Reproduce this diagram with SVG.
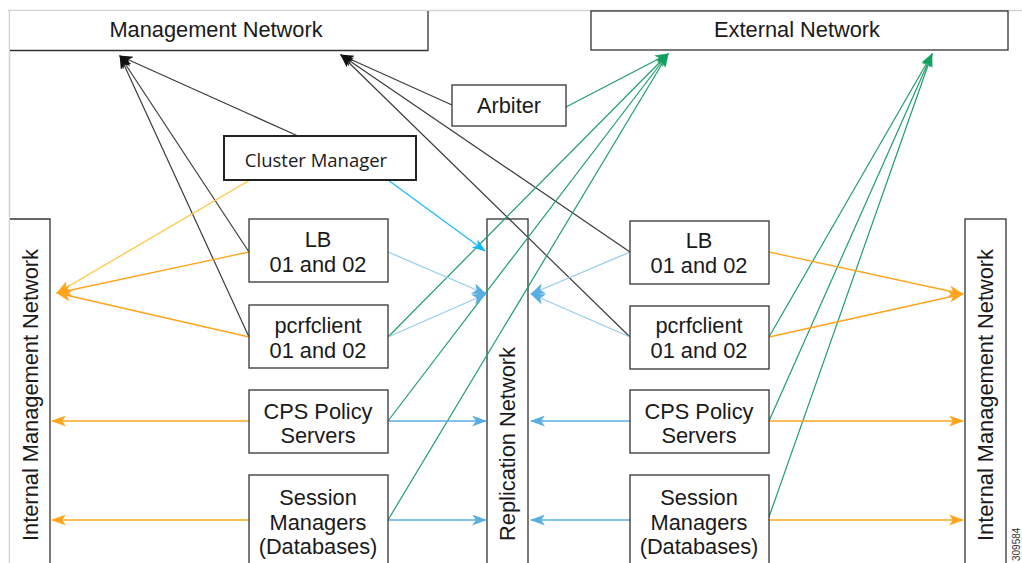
<svg xmlns="http://www.w3.org/2000/svg" width="1022" height="563" viewBox="0 0 1022 563">
<style>
  .box{fill:#fff;stroke:#333;stroke-width:1.3}
  .t{font-family:"Liberation Sans",Arial,sans-serif;font-size:21.8px;fill:#1a1a1a;text-anchor:middle}
  .cm{font-family:"Open Sans","Noto Sans",sans-serif;font-size:18.5px;fill:#1a1a1a;text-anchor:middle}
  .k{stroke:#3c3c3c;stroke-width:1.2;fill:none}
  .g{stroke:#1f9e6c;stroke-width:1.2;fill:none}
  .o{stroke:#ffa41c;stroke-width:1.3;fill:none}
  .y{stroke:#ffc840;stroke-width:1.3;fill:none}
  .lb{stroke:#98cdee;stroke-width:1.3;fill:none}
  .b{stroke:#5aafe2;stroke-width:1.3;fill:none}
  .c{stroke:#20bdf5;stroke-width:1.4;fill:none}
</style>
<defs>
  <marker id="ak" markerWidth="14" markerHeight="10" refX="13" refY="5" orient="auto" markerUnits="userSpaceOnUse"><path d="M0,0 L14,5 L0,10 L4,5 z" fill="#111"/></marker>
  <marker id="ag" markerWidth="14" markerHeight="10" refX="13" refY="5" orient="auto" markerUnits="userSpaceOnUse"><path d="M0,0 L14,5 L0,10 L4,5 z" fill="#12a060"/></marker>
  <marker id="ao" markerWidth="15" markerHeight="11" refX="14" refY="5.5" orient="auto" markerUnits="userSpaceOnUse"><path d="M0,0 L15,5.5 L0,11 L4,5.5 z" fill="#ffa41c"/></marker>
  <marker id="ab" markerWidth="15" markerHeight="11" refX="14" refY="5.5" orient="auto" markerUnits="userSpaceOnUse"><path d="M0,0 L15,5.5 L0,11 L4,5.5 z" fill="#5aafe2"/></marker>
  <marker id="ac" markerWidth="14" markerHeight="10" refX="13" refY="5" orient="auto" markerUnits="userSpaceOnUse"><path d="M0,0 L14,5 L0,10 L4,5 z" fill="#14b8f5"/></marker>
</defs>
<rect width="1022" height="563" fill="#fff"/>
<path d="M8,10.5 H1022 M9.5,10 V563" stroke="#d2d2d2" stroke-width="1.5" fill="none"/>

<g id="internal-mgmt-left">
  <rect x="10" y="219" width="40" height="350" fill="#fff"/>
  <path d="M10,219 H50 V563" stroke="#333" stroke-width="1.3" fill="none"/>
  <text class="t" transform="translate(38,395) rotate(-90)">Internal Management Network</text>
</g>
<g id="replication-network">
  <rect class="box" x="487" y="219" width="41" height="350"/>
  <text class="t" transform="translate(515,444) rotate(-90)">Replication Network</text>
</g>
<g id="internal-mgmt-right">
  <rect class="box" x="965" y="219" width="41" height="350"/>
  <text class="t" transform="translate(993,395) rotate(-90)">Internal Management Network</text>
</g>

<g id="connectors">
  <path class="k" d="M298,136 L120,56" marker-end="url(#ak)"/>
  <path class="k" d="M249,252 L120,56" marker-end="url(#ak)"/>
  <path class="k" d="M249,337 L120,56" marker-end="url(#ak)"/>
  <path class="k" d="M452,105 L341,55" marker-end="url(#ak)"/>
  <path class="k" d="M630,252 L341,55" marker-end="url(#ak)"/>
  <path class="k" d="M630,337 L341,55" marker-end="url(#ak)"/>
  <path class="g" d="M566,107 L668,54" marker-end="url(#ag)"/>
  <path class="g" d="M388,337 L668,54" marker-end="url(#ag)"/>
  <path class="g" d="M388,421 L668,54" marker-end="url(#ag)"/>
  <path class="g" d="M388,520 L668,54" marker-end="url(#ag)"/>
  <path class="g" d="M769,337 L932,54" marker-end="url(#ag)"/>
  <path class="g" d="M769,421 L932,54" marker-end="url(#ag)"/>
  <path class="g" d="M769,517 L932,54" marker-end="url(#ag)"/>
  <path class="y" d="M250,180 L57,293" marker-end="url(#ao)"/>
  <path class="o" d="M249,252 L57,293" marker-end="url(#ao)"/>
  <path class="o" d="M249,337 L57,293" marker-end="url(#ao)"/>
  <path class="o" d="M249,421 L52,421" marker-end="url(#ao)"/>
  <path class="o" d="M249,520 L52,520" marker-end="url(#ao)"/>
  <path class="o" d="M769,252 L963,294" marker-end="url(#ao)"/>
  <path class="o" d="M769,337 L963,294" marker-end="url(#ao)"/>
  <path class="o" d="M769,421 L963,421" marker-end="url(#ao)"/>
  <path class="o" d="M769,520 L963,520" marker-end="url(#ao)"/>
  <path class="c" d="M388,180 L485,251" marker-end="url(#ac)"/>
  <path class="lb" d="M388,252 L486,294" marker-end="url(#ab)"/>
  <path class="lb" d="M388,337 L486,294" marker-end="url(#ab)"/>
  <path class="b" d="M388,421 L486,421" marker-end="url(#ab)"/>
  <path class="b" d="M388,520 L486,520" marker-end="url(#ab)"/>
  <path class="lb" d="M630,252 L531,294" marker-end="url(#ab)"/>
  <path class="lb" d="M630,337 L531,294" marker-end="url(#ab)"/>
  <path class="b" d="M630,421 L531,421" marker-end="url(#ab)"/>
  <path class="b" d="M630,520 L531,520" marker-end="url(#ab)"/>
</g>

<g id="management-network">
  <rect x="10" y="11" width="418" height="40" fill="#fff"/>
  <path d="M10,50.5 H428 V11" stroke="#333" stroke-width="1.3" fill="none"/>
  <text class="t" x="216" y="37">Management Network</text>
</g>
<g id="external-network">
  <rect class="box" x="591" y="11" width="417" height="39"/>
  <text class="t" x="797" y="37">External Network</text>
</g>
<g id="arbiter">
  <rect class="box" x="452" y="85" width="114" height="41"/>
  <text class="t" x="509" y="113">Arbiter</text>
</g>
<g id="cluster-manager">
  <rect x="224" y="136" width="192" height="44" fill="#fff" stroke="#222" stroke-width="2"/>
  <text class="cm" x="316" y="167">Cluster Manager</text>
</g>

<g id="lb-left">
  <rect class="box" x="249" y="219" width="139" height="63"/>
  <text class="t" x="318" y="247">LB</text>
  <text class="t" x="318" y="272">01 and 02</text>
</g>
<g id="pcrfclient-left">
  <rect class="box" x="249" y="305" width="139" height="63"/>
  <text class="t" x="318" y="333">pcrfclient</text>
  <text class="t" x="318" y="358">01 and 02</text>
</g>
<g id="cps-left">
  <rect class="box" x="249" y="390" width="139" height="63"/>
  <text class="t" x="318" y="419">CPS Policy</text>
  <text class="t" x="318" y="443">Servers</text>
</g>
<g id="session-left">
  <rect class="box" x="249" y="475" width="139" height="100"/>
  <text class="t" x="318" y="505">Session</text>
  <text class="t" x="318" y="530">Managers</text>
  <text class="t" x="318" y="554">(Databases)</text>
</g>

<g id="lb-right">
  <rect class="box" x="630" y="221" width="139" height="63"/>
  <text class="t" x="699" y="248">LB</text>
  <text class="t" x="699" y="273">01 and 02</text>
</g>
<g id="pcrfclient-right">
  <rect class="box" x="630" y="306" width="139" height="63"/>
  <text class="t" x="699" y="333">pcrfclient</text>
  <text class="t" x="699" y="358">01 and 02</text>
</g>
<g id="cps-right">
  <rect class="box" x="630" y="390" width="139" height="63"/>
  <text class="t" x="699" y="419">CPS Policy</text>
  <text class="t" x="699" y="443">Servers</text>
</g>
<g id="session-right">
  <rect class="box" x="630" y="475" width="139" height="100"/>
  <text class="t" x="699" y="505">Session</text>
  <text class="t" x="699" y="530">Managers</text>
  <text class="t" x="699" y="554">(Databases)</text>
</g>

<text transform="translate(1020,561) rotate(-90)" font-family="'Liberation Sans',Arial,sans-serif" font-size="10" fill="#333">309584</text>
</svg>
